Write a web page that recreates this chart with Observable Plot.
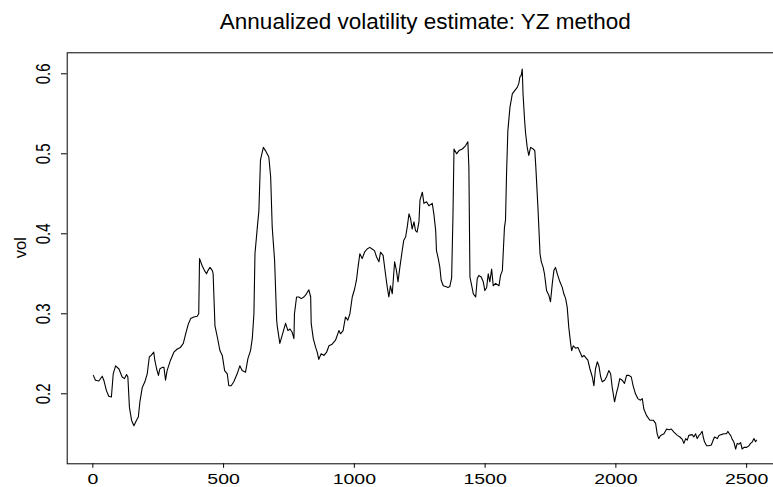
<!DOCTYPE html>
<html><head><meta charset="utf-8">
<script src="https://cdn.jsdelivr.net/npm/d3@7"></script>
<script src="https://cdn.jsdelivr.net/npm/@observablehq/plot@0.6"></script>
<style>
html,body{margin:0;padding:0;background:#fff;overflow:hidden;}
#chart svg{display:block;max-width:none !important;}
</style></head><body><div id="chart"></div>
<script>
const title = "Annualized volatility estimate: YZ method";
const yLabel = "vol";
const xTicks = [0, 500, 1000, 1500, 2000, 2500];
const yTicks = [0.2, 0.3, 0.4, 0.5, 0.6];

const day = [
  2,10,23,36,42,52,61,71,78,87,
  100,112,121,129,134,140,148,157,167,174,
  180,189,199,208,216,223,233,237,244,251,
  256,265,272,278,284,297,310,323,335,346,
  355,365,374,386,399,405,408,418,427,435,
  440,448,457,460,467,476,486,495,504,514,
  520,529,539,552,562,571,584,593,603,610,
  616,620,629,635,641,652,660,673,680,686,
  695,703,705,715,724,737,746,754,762,769,
  771,779,788,797,807,817,826,833,835,843,
  852,858,864,873,884,894,903,915,928,941,
  947,957,966,975,983,992,1001,1008,1014,1021,
  1030,1039,1049,1059,1068,1077,1085,1094,1100,1110,
  1119,1126,1132,1138,1145,1154,1161,1167,1174,1183,
  1189,1196,1202,1209,1215,1221,1228,1234,1240,1247,
  1251,1260,1266,1276,1285,1298,1304,1311,1314,1321,
  1327,1332,1340,1349,1358,1365,1372,1377,1381,1391,
  1400,1413,1425,1434,1438,1442,1447,1455,1464,1470,
  1476,1485,1493,1499,1506,1512,1518,1525,1531,1540,
  1553,1559,1566,1574,1578,1582,1587,1595,1604,1613,
  1623,1629,1633,1638,1642,1645,1651,1655,1661,1667,
  1674,1684,1690,1694,1702,1710,1715,1722,1727,1735,
  1744,1750,1757,1763,1769,1776,1786,1795,1801,1808,
  1814,1820,1827,1831,1837,1846,1855,1863,1871,1878,
  1888,1893,1901,1910,1916,1922,1929,1935,1942,1948,
  1957,1964,1973,1980,1986,1995,2003,2008,2015,2024,
  2033,2041,2050,2059,2066,2075,2084,2094,2101,2107,
  2117,2130,2143,2152,2158,2164,2171,2184,2194,2203,
  2212,2222,2235,2245,2254,2260,2267,2273,2279,2292,
  2298,2305,2311,2318,2324,2330,2334,2339,2347,2356,
  2365,2372,2377,2388,2394,2403,2413,2423,2428,2434,
  2439,2445,2451,2458,2464,2471,2477,2483,2490,2500,
  2509,2515,2522,2528,2534,2538
];
const vol = [
  .223,.217,.216,.222,.217,.204,.197,.196,.225,.235,
  .231,.221,.219,.224,.221,.183,.167,.160,.167,.171,
  .190,.208,.215,.225,.246,.248,.252,.242,.231,.223,
  .231,.233,.233,.217,.229,.242,.252,.256,.258,.263,
  .275,.287,.294,.296,.297,.300,.369,.360,.354,.350,
  .354,.358,.354,.350,.285,.271,.254,.248,.229,.225,
  .210,.210,.215,.225,.235,.229,.227,.244,.254,.270,
  .300,.375,.408,.429,.492,.508,.504,.496,.471,.408,
  .367,.292,.285,.263,.273,.288,.279,.281,.277,.269,
  .300,.321,.321,.319,.321,.325,.330,.321,.288,.269,
  .258,.252,.243,.250,.248,.252,.260,.262,.267,.279,
  .275,.279,.296,.292,.300,.321,.331,.342,.358,.375,
  .369,.377,.381,.383,.381,.379,.371,.365,.377,.373,
  .350,.333,.321,.335,.325,.365,.354,.340,.358,.379,
  .392,.396,.408,.425,.419,.406,.415,.404,.402,.415,
  .442,.452,.438,.440,.435,.438,.425,.404,.379,.369,
  .358,.342,.335,.334,.333,.334,.345,.421,.506,.500,
  .504,.506,.510,.515,.483,.346,.338,.325,.321,.344,
  .348,.346,.340,.329,.333,.350,.340,.356,.335,.338,
  .335,.348,.354,.408,.417,.475,.529,.558,.575,.579,
  .583,.588,.596,.598,.606,.575,.542,.525,.508,.498,
  .508,.506,.504,.483,.433,.375,.365,.358,.350,.329,
  .323,.315,.338,.354,.358,.350,.340,.333,.325,.319,
  .308,.283,.263,.254,.260,.257,.258,.252,.246,.248,
  .244,.242,.231,.221,.210,.231,.240,.235,.221,.215,
  .217,.221,.229,.225,.208,.190,.202,.208,.219,.217,
  .213,.223,.223,.221,.210,.200,.194,.192,.194,.181,
  .173,.167,.167,.163,.150,.144,.148,.150,.156,.155,
  .156,.152,.148,.146,.143,.138,.144,.142,.148,.149,
  .146,.150,.144,.148,.150,.153,.146,.140,.135,.135,
  .136,.142,.146,.144,.148,.149,.150,.150,.153,.150,
  .148,.143,.140,.131,.138,.137,.139,.131,.133,.133,
  .135,.138,.140,.144,.140,.142
];

const data = day.map((d, i) => ({day: d, vol: vol[i]}));

const chart = Plot.plot({
  width: 784,
  height: 487,
  marginLeft: 66.7,
  marginRight: 1,
  marginTop: 52.3,
  marginBottom: 23.7,
  style: {
    fontFamily: "'Liberation Sans', Arial, Helvetica, sans-serif",
    fontSize: "15px",
    background: "white",
    color: "black",
    maxWidth: "none",
    overflow: "hidden"
  },
  x: {domain: [-98, 2641], ticks: xTicks, tickSize: 4.5, tickPadding: 5, label: null, tickFormat: d3.format("d")},
  y: {domain: [0.1125, 0.62625], ticks: yTicks, tickSize: 5.7, tickPadding: 11, tickRotate: -90, label: null, tickFormat: d3.format(".1f")},
  marks: [
    Plot.frame({stroke: "black", strokeWidth: 1}),
    Plot.line(data, {x: "day", y: "vol", stroke: "black", strokeWidth: 1.1}),
    Plot.text([title], {text: d => d, frameAnchor: "top", lineAnchor: "bottom", dy: -24.3, fontSize: 22.5, ariaLabel: "title"}),
    Plot.text([yLabel], {text: d => d, frameAnchor: "left", rotate: -90, lineAnchor: "bottom", dx: -41, fontSize: 16.5, ariaLabel: "ylabel"})
  ]
});

// The reference rendering is stretched horizontally (~1.3x): mimic on text.
const svg = d3.select(chart);
svg.selectAll('g[aria-label="x-axis tick label"] text, g[aria-label="title"] text').each(function () {
  const t = this.getAttribute("transform") || "";
  this.setAttribute("transform", (t + " scale(1.3,1)").trim());
});
svg.selectAll('g[aria-label="y-axis tick label"] text, g[aria-label="ylabel"] text').each(function () {
  const t = this.getAttribute("transform") || "";
  this.setAttribute("transform", (t + " scale(1,1.3)").trim());
});

document.getElementById("chart").appendChild(chart);
</script>
</body></html>
